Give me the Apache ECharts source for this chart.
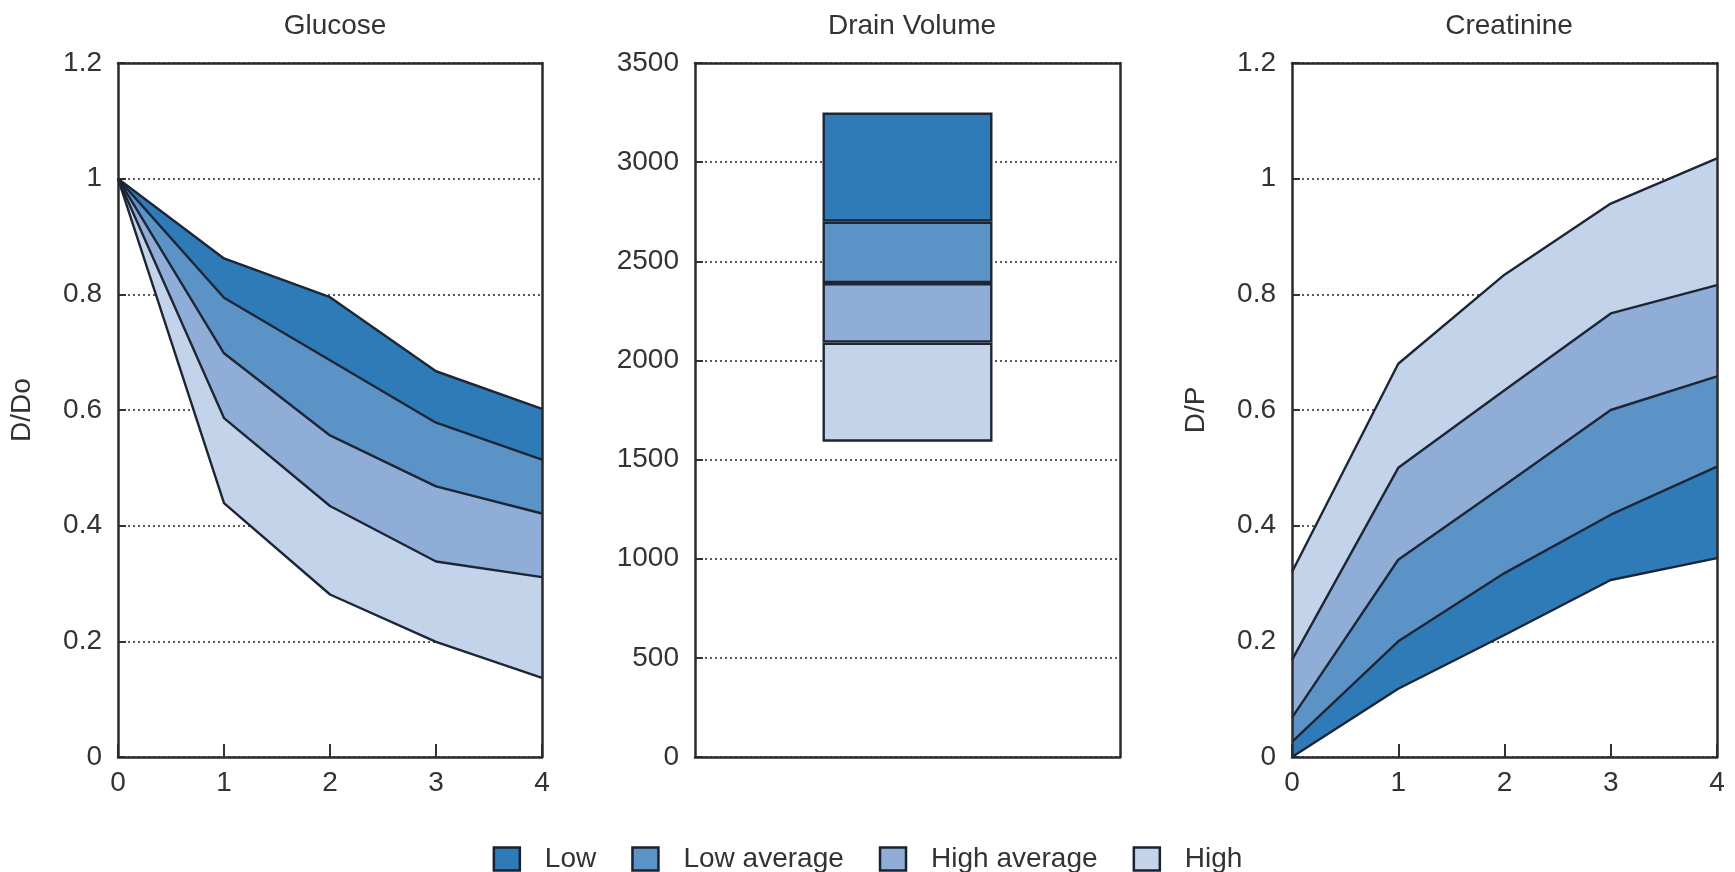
<!DOCTYPE html>
<html>
<head>
<meta charset="utf-8">
<script src="https://cdn.jsdelivr.net/npm/echarts@6/dist/echarts.min.js"></script>
<style>html,body{margin:0;padding:0;background:#fff}#c{width:1735px;height:872px}</style>
</head>
<body>
<div id="c"></div>
<script>
// ---- data ----
const hours = ['0', '1', '2', '3', '4'];
const bandNames = ['Low', 'Low average', 'High average', 'High'];
const bandColors = ['#2e7bb7', '#5c93c7', '#8fadd6', '#c3d3ea'];

// Glucose D/Do boundaries (top to bottom)
const glucoseLowTop       = [1.0, 0.862, 0.795, 0.667, 0.602];
const glucoseLowBottom    = [1.0, 0.794, 0.686, 0.578, 0.514];
const glucoseLowAvgBottom = [1.0, 0.698, 0.556, 0.468, 0.421];
const glucoseHighAvgBottom= [1.0, 0.586, 0.434, 0.338, 0.311];
const glucoseHighBottom   = [1.0, 0.439, 0.281, 0.199, 0.137];

// Creatinine D/P boundaries (top to bottom)
const creatHighTop        = [0.320, 0.680, 0.834, 0.957, 1.035];
const creatHighAvgTop     = [0.168, 0.500, 0.634, 0.767, 0.816];
const creatLowAvgTop      = [0.068, 0.341, 0.470, 0.600, 0.658];
const creatLowTop         = [0.026, 0.200, 0.318, 0.419, 0.502];
const creatLowBottom      = [0.0,   0.118, 0.211, 0.306, 0.344];

// Drain volume boundaries (bottom to top): High, High average, Low average, Low
const drainBounds = [1590, 2090, 2390, 2700, 3250];

// ---- helpers ----
const LINE = '#1c2636';
const TXT = '#333';
const FONT = 'Liberation Sans';
const FS = 28;
const diff = (a, b) => a.map((v, i) => +(v - b[i]).toFixed(4));

const grids = [
  { left: 118, top: 63, width: 424, height: 694 },
  { left: 695, top: 63, width: 425, height: 694 },
  { left: 1292, top: 63, width: 425, height: 694 }
];

const xAxes = [], yAxes = [], series = [];
const frameLine = { show: true, onZero: false, lineStyle: { color: '#2a2a2a', width: 2.5 } };

function addFrame(gi) {
  xAxes.push({ gridIndex: gi, type: 'value', position: 'top', min: 0, max: 1, z: 6,
    axisLine: frameLine, axisTick: { show: false }, axisLabel: { show: false }, splitLine: { show: false } });
  yAxes.push({ gridIndex: gi, type: 'value', position: 'left', min: 0, max: 1, z: 6,
    axisLine: frameLine, axisTick: { show: false }, axisLabel: { show: false }, splitLine: { show: false } });
  yAxes.push({ gridIndex: gi, type: 'value', position: 'right', min: 0, max: 1, z: 6,
    axisLine: frameLine, axisTick: { show: false }, axisLabel: { show: false }, splitLine: { show: false } });
}

function mainY(gi, min, max, interval, name) {
  return {
    gridIndex: gi, type: 'value', min, max, interval, z: 1,
    name: name || '', nameLocation: 'middle', nameRotate: 90, nameGap: 82,
    nameTextStyle: { color: TXT, fontSize: FS, fontFamily: FONT },
    axisLine: { show: false, onZero: false },
    axisTick: { show: true, inside: true, length: 8, lineStyle: { color: '#333', width: 2 } },
    axisLabel: { color: TXT, fontSize: FS, fontFamily: FONT, margin: 16, formatter: v => String(+v.toFixed(2)) },
    splitLine: { show: true, lineStyle: { color: '#5a5a5a', width: 2, type: [2, 3] } }
  };
}
function mainX(gi) {
  return {
    gridIndex: gi, type: 'category', data: hours, boundaryGap: false, z: 5,
    axisLine: { show: true, onZero: false, lineStyle: { color: '#2a2a2a', width: 2.5 } },
    axisTick: { show: true, inside: true, length: 13, lineStyle: { color: '#333', width: 2 } },
    axisLabel: { color: TXT, fontSize: FS, fontFamily: FONT, margin: 12, interval: 0 },
    splitLine: { show: false }
  };
}

// axes
xAxes.push(mainX(0));                                  // x0 glucose
yAxes.push(mainY(0, 0, 1.2, 0.2, 'D/Do'));             // y0
xAxes.push({ gridIndex: 1, type: 'category', data: [''], z: 5,
  axisLine: { show: true, onZero: false, lineStyle: { color: '#2a2a2a', width: 2.5 } },
  axisTick: { show: false }, axisLabel: { show: false }, splitLine: { show: false } }); // x1 drain
yAxes.push(mainY(1, 0, 3500, 500, ''));                // y1
xAxes.push(mainX(2));                                  // x2 creatinine
yAxes.push(mainY(2, 0, 1.2, 0.2, 'D/P'));              // y2
addFrame(0); addFrame(1); addFrame(2);

function baseSeries(data, xi, yi, stack) {
  return { name: '_base', type: 'line', xAxisIndex: xi, yAxisIndex: yi, stack, data,
    showSymbol: false, symbol: 'none', lineStyle: { width: 0, opacity: 0 }, z: 2, silent: true };
}
function areaSeries(name, data, color, xi, yi, stack) {
  return { name, type: 'line', xAxisIndex: xi, yAxisIndex: yi, stack, data,
    showSymbol: false, symbol: 'none', lineStyle: { width: 0, opacity: 0 }, itemStyle: { color },
    areaStyle: { color, opacity: 1 }, z: 2, silent: true };
}
function lineSeries(data, xi, yi) {
  return { name: '_line', type: 'line', xAxisIndex: xi, yAxisIndex: yi, data,
    showSymbol: false, symbol: 'none', lineStyle: { color: LINE, width: 2.4 }, itemStyle: { color: LINE },
    z: 4, silent: true };
}

// Glucose (stacked from bottom)
series.push(baseSeries(glucoseHighBottom, 0, 0, 'g'));
series.push(areaSeries('High', diff(glucoseHighAvgBottom, glucoseHighBottom), bandColors[3], 0, 0, 'g'));
series.push(areaSeries('High average', diff(glucoseLowAvgBottom, glucoseHighAvgBottom), bandColors[2], 0, 0, 'g'));
series.push(areaSeries('Low average', diff(glucoseLowBottom, glucoseLowAvgBottom), bandColors[1], 0, 0, 'g'));
series.push(areaSeries('Low', diff(glucoseLowTop, glucoseLowBottom), bandColors[0], 0, 0, 'g'));
[glucoseLowTop, glucoseLowBottom, glucoseLowAvgBottom, glucoseHighAvgBottom, glucoseHighBottom]
  .forEach(a => series.push(lineSeries(a, 0, 0)));

// Creatinine (stacked from bottom)
series.push(baseSeries(creatLowBottom, 2, 2, 'c'));
series.push(areaSeries('Low', diff(creatLowTop, creatLowBottom), bandColors[0], 2, 2, 'c'));
series.push(areaSeries('Low average', diff(creatLowAvgTop, creatLowTop), bandColors[1], 2, 2, 'c'));
series.push(areaSeries('High average', diff(creatHighAvgTop, creatLowAvgTop), bandColors[2], 2, 2, 'c'));
series.push(areaSeries('High', diff(creatHighTop, creatHighAvgTop), bandColors[3], 2, 2, 'c'));
[creatHighTop, creatHighAvgTop, creatLowAvgTop, creatLowTop, creatLowBottom]
  .forEach(a => series.push(lineSeries(a, 2, 2)));

// Drain volume stacked bar
series.push({ name: '_base', type: 'bar', xAxisIndex: 1, yAxisIndex: 1, stack: 'd', barWidth: '40%',
  data: [drainBounds[0]], itemStyle: { color: 'transparent' }, silent: true });
const drainOrder = [3, 2, 1, 0]; // High, High average, Low average, Low (bottom to top)
drainOrder.forEach((bi, k) => {
  series.push({ name: bandNames[bi], type: 'bar', xAxisIndex: 1, yAxisIndex: 1, stack: 'd', barWidth: '40%',
    data: [drainBounds[k + 1] - drainBounds[k]],
    itemStyle: { color: bandColors[bi], borderColor: LINE, borderWidth: 2.4 }, z: 3, silent: true });
});

const option = {
  animation: false,
  backgroundColor: '#fff',
  title: [
    { text: 'Glucose', left: 330, top: 7, textAlign: 'center' },
    { text: 'Drain Volume', left: 907, top: 7, textAlign: 'center' },
    { text: 'Creatinine', left: 1504, top: 7, textAlign: 'center' }
  ].map(t => Object.assign(t, { textStyle: { color: TXT, fontSize: FS, fontWeight: 'normal', fontFamily: FONT } })),
  legend: {
    left: 'center', top: 840, itemWidth: 26, itemHeight: 23, itemGap: 35, icon: 'rect',
    textStyle: { color: TXT, fontSize: FS, fontFamily: FONT, padding: [0, 0, 0, 20] },
    data: bandNames.map((n, i) => ({ name: n, icon: 'rect',
      itemStyle: { color: bandColors[i], borderColor: '#1a2230', borderWidth: 2.5 } })),
    selectedMode: false
  },
  grid: grids,
  xAxis: xAxes,
  yAxis: yAxes,
  series
};

const chart = echarts.init(document.getElementById('c'), null, { renderer: 'canvas' });
chart.setOption(option);
</script>
</body>
</html>
